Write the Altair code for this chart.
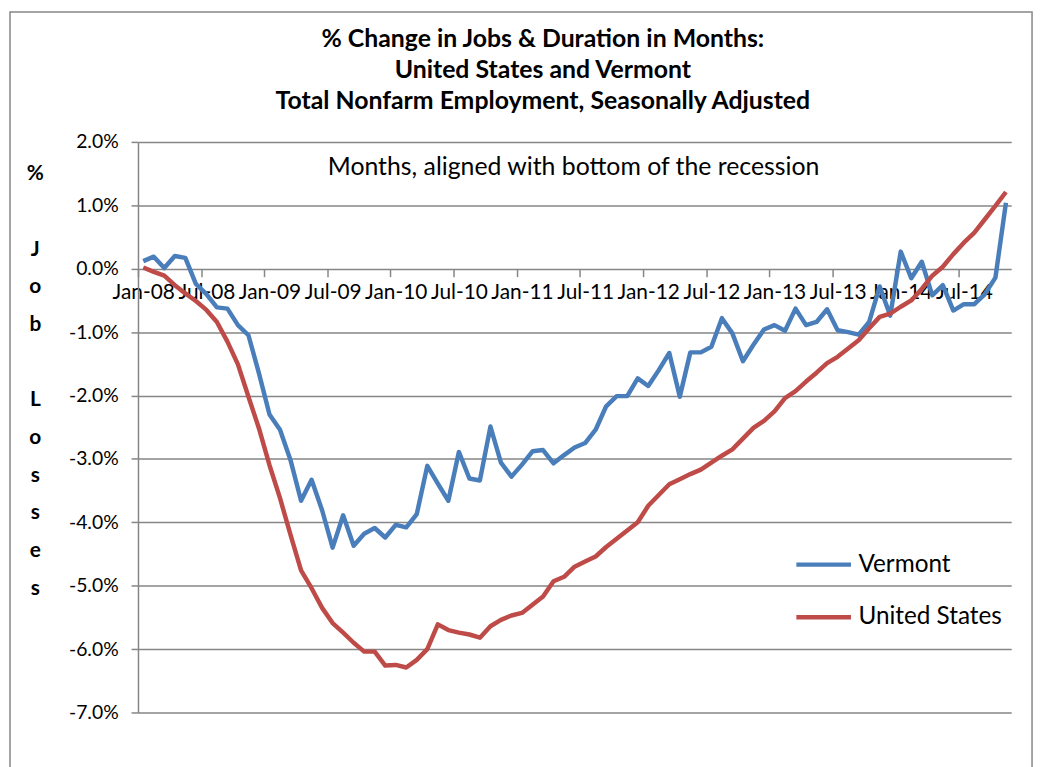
import json
import altair as alt
import pandas as pd

# ---------------- data ----------------
month_names = ["Jan", "Feb", "Mar", "Apr", "May", "Jun",
               "Jul", "Aug", "Sep", "Oct", "Nov", "Dec"]
years = ["08", "09", "10", "11", "12", "13", "14"]
months = [f"{m}-{y}" for y in years for m in month_names][:83]

vermont = [0.12, 0.19, 0.01, 0.20, 0.17, -0.24, -0.40, -0.61, -0.63, -0.89,
           -1.05, -1.65, -2.30, -2.54, -3.02, -3.66, -3.33, -3.81, -4.40, -3.89,
           -4.37, -4.18, -4.09, -4.24, -4.04, -4.08, -3.87, -3.11, -3.39, -3.66,
           -2.89, -3.31, -3.34, -2.49, -3.06, -3.28, -3.09, -2.88, -2.86, -3.07,
           -2.94, -2.82, -2.75, -2.54, -2.17, -2.01, -2.01, -1.73, -1.85, -1.60,
           -1.33, -2.02, -1.32, -1.32, -1.23, -0.78, -1.02, -1.46, -1.20, -0.96,
           -0.89, -0.98, -0.63, -0.89, -0.84, -0.64, -0.97, -1.00, -1.04, -0.84,
           -0.28, -0.74, 0.27, -0.15, 0.11, -0.42, -0.26, -0.66, -0.56, -0.56,
           -0.40, -0.14, 1.04]

united_states = [0.02, -0.05, -0.11, -0.26, -0.39, -0.51, -0.65, -0.84, -1.15, -1.51,
                 -2.02, -2.52, -3.10, -3.62, -4.20, -4.76, -5.04, -5.35, -5.59, -5.74,
                 -5.90, -6.04, -6.04, -6.26, -6.25, -6.29, -6.17, -6.00, -5.61, -5.70,
                 -5.74, -5.77, -5.82, -5.64, -5.54, -5.47, -5.43, -5.30, -5.17, -4.93,
                 -4.86, -4.70, -4.62, -4.54, -4.39, -4.26, -4.13, -4.00, -3.74, -3.57,
                 -3.40, -3.32, -3.24, -3.17, -3.06, -2.95, -2.85, -2.68, -2.51, -2.40,
                 -2.25, -2.04, -1.93, -1.78, -1.64, -1.49, -1.39, -1.26, -1.13, -0.94,
                 -0.76, -0.71, -0.60, -0.50, -0.32, -0.11, 0.03, 0.23, 0.41, 0.57,
                 0.78, 0.99, 1.21]

tick_labels = ["Jan-08", "Jul-08", "Jan-09", "Jul-09", "Jan-10", "Jul-10", "Jan-11",
               "Jul-11", "Jan-12", "Jul-12", "Jan-13", "Jul-13", "Jan-14", "Jul-14"]
y_ticks = [-7, -6, -5, -4, -3, -2, -1, 0, 1, 2]
series = ["Vermont", "United States"]
colors = ["#4A7EBB", "#BE4B48"]

rows = []
for name, vals in zip(series, [vermont, united_states]):
    for i, v in enumerate(vals):
        rows.append({"idx": i, "month": months[i], "series": name, "pct": v})
df = pd.DataFrame(rows)

note = pd.DataFrame({"pos": [41.4], "pct": [1.6],
                     "t": ["Months, aligned with bottom of the recession"]})

# ---------------- layout ----------------
W, H = 880, 575
FONT = "Lato"
GRAY = "#868686"
n = len(months)
step = W / n
zero_offset = -(H * (0 - (-7)) / 9)
BLANK = "\u2800"

x_scale = alt.Scale(domain=[0, n], nice=False, zero=False)
y_scale = alt.Scale(domain=[-7, 2], nice=False, zero=False)

label_expr = json.dumps(tick_labels) + "[round(datum.value / 6)]"

x_axis = alt.Axis(values=list(range(0, n, 6)), labelExpr=label_expr,
                  offset=zero_offset, grid=False, domain=False,
                  tickSize=8, tickWidth=1.5, tickColor=GRAY,
                  labelOffset=step / 2, labelPadding=5, labelFlush=False,
                  labelOverlap=False, labelBound=False, labelFontSize=21,
                  labelFont=FONT, labelColor="black", title=None)

y_axis = alt.Axis(values=y_ticks,
                  labelExpr="(datum.value < 0 ? '-' : '') + format(abs(datum.value) / 100, '.1%')",
                  grid=True, gridColor=GRAY, gridWidth=1.5,
                  domain=True, domainColor=GRAY, domainWidth=1.5,
                  tickSize=7, tickColor=GRAY, tickWidth=1.5,
                  labelPadding=13, labelFontSize=19.5, labelFont=FONT,
                  labelColor="black",
                  title=["%", BLANK, "J", "o", "b", BLANK, "L", "o", "s", "s", "e", "s"],
                  titleAngle=0, titleX=-104, titleY=32, titleAlign="center",
                  titleBaseline="middle", titleLineHeight=38,
                  titleFontWeight="bold", titleFontSize=21, titleFont=FONT,
                  titleColor="black")

lines = alt.Chart(df).transform_calculate(pos="datum.idx + 0.5").mark_line(
    strokeWidth=4.5, strokeJoin="round"
).encode(
    x=alt.X("pos:Q", scale=x_scale, axis=x_axis),
    y=alt.Y("pct:Q", scale=y_scale, axis=y_axis),
    color=alt.Color("series:N", sort=series,
                    scale=alt.Scale(domain=series, range=colors),
                    legend=alt.Legend(orient="none", legendX=661, legendY=396,
                                      title=None, symbolType="stroke",
                                      symbolSize=3025, symbolStrokeWidth=4.5,
                                      labelFontSize=24.5, labelFont=FONT,
                                      labelColor="black", rowPadding=11,
                                      padding=0, labelOffset=5)),
    detail="series:N",
)

text = alt.Chart(note).mark_text(fontSize=25, font=FONT, color="black").encode(
    x=alt.X("pos:Q", scale=x_scale),
    y=alt.Y("pct:Q", scale=y_scale),
    text="t:N",
)

frame = alt.Chart(pd.DataFrame({"a": [0]})).mark_rect(
    fill="transparent", stroke=GRAY, strokeWidth=1.5
).encode(x=alt.value(-129), x2=alt.value(901), y=alt.value(-131), y2=alt.value(660))

chart = alt.layer(frame, lines, text).properties(
    width=W, height=H,
    padding={"left": 131, "top": 132, "right": 26, "bottom": 52},
    autosize=alt.AutoSizeParams(type="none"),
    title=alt.TitleParams(
        text=["% Change in Jobs & Duration in Months:",
              "United States and Vermont",
              "Total Nonfarm Employment, Seasonally Adjusted"],
        font=FONT, fontSize=25, fontWeight="bold", color="black",
        anchor="middle", dx=-32, offset=-104, lineHeight=31.5),
).configure_view(strokeWidth=0)

chart.save("out.html", embed_options={"renderer": "svg", "actions": False})
